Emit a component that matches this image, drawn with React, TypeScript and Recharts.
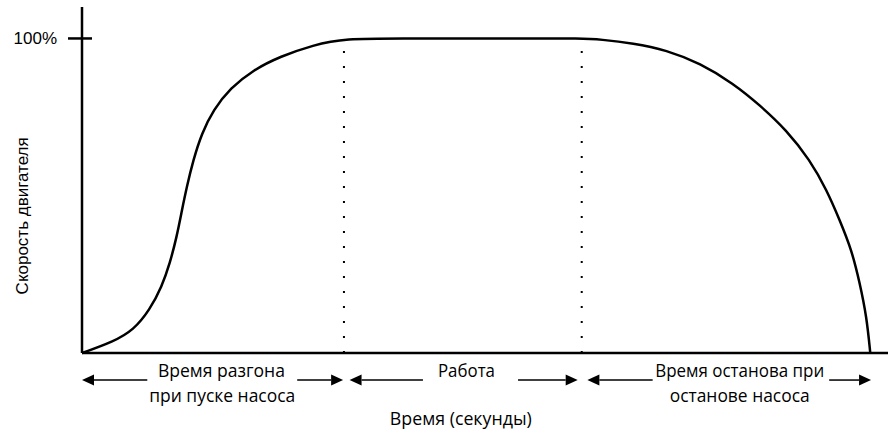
import { LineChart, Line, XAxis, YAxis, ReferenceLine, ReferenceDot } from 'recharts';

// time axis (0..100 units) and motor speed (% of nominal)
const timeSteps = [
  0, 3.9, 6.4, 8.4, 9.9, 10.9, 11.75, 12.4, 13.0, 13.8, 14.85, 16.3, 18.4, 21.25, 24.6, 28.7, 32.5,
  40, 47, 55, 62.0, 64.3, 68.4, 72.5, 76.7, 80.8, 84.1, 87.4, 90.3, 92.4, 94.0, 95.5, 96.5, 97.35, 97.8,
];
const speedPct = [
  0, 3.6, 7.3, 13.7, 21.1, 28.5, 36.9, 45.4, 52.8, 61.3, 69.8, 77.3, 84.2, 90.0, 94.3, 97.9, 100,
  100, 100, 100, 100, 99.7, 98.5, 96.3, 92.1, 85.7, 78.8, 70.9, 61.4, 51.8, 42.3, 32.7, 22.2, 11.5, 0,
];

const yTicks = [100];
const yTickLabels = ['100%'];

// phase boundaries (dotted lines)
const phaseBounds = [32.5, 62.0];

// arrows under the axis: [inner end, tip]
const arrowLevel = -8.6;
const arrows = [
  [8.1, 0], [26.7, 32.4],
  [42.3, 33.2], [54.1, 61.5],
  [70.8, 62.7], [92.7, 97.9],
];

// phase captions: text, x, baseline level, width
const captions: [string, number, number, number][] = [
  ['Время разгона', 17.3, -7.6, 127],
  ['при пуске насоса', 17.4, -15.6, 146],
  ['Работа', 47.7, -7.6, 57],
  ['Время останова при', 81.6, -7.6, 169],
  ['останове насоса', 81.6, -15.6, 140],
  ['Время (секунды)', 47.0, -23.0, 142],
];

const data = timeSteps.map((t, i) => ({ t, speed: speedPct[i] }));

const YTick = (props: any) => {
  const { x, y, payload } = props;
  const idx = yTicks.indexOf(payload.value);
  return (
    <g>
      <line x1={x - 14} y1={y} x2={x + 10} y2={y} stroke="#000" strokeWidth={2.5} />
      <text x={x - 25} y={y + 6} textAnchor="end" fontFamily="Liberation Sans" fontSize={17} fill="#000">
        {yTickLabels[idx]}
      </text>
    </g>
  );
};

const ArrowShape = (p: any) => {
  const { x1, y1, x2, y2 } = p;
  const dir = Math.sign(x2 - x1);
  const base = x2 - dir * 12;
  return (
    <g>
      <line x1={x1} y1={y1} x2={base} y2={y2} stroke="#000" strokeWidth={1.5} />
      <polygon points={`${x2},${y2} ${base},${y2 - 5.5} ${base},${y2 + 5.5}`} fill="#000" />
    </g>
  );
};

const captionShape = (text: string, width: number) => (p: any) => (
  <text x={p.cx} y={p.cy} textAnchor="middle" fontFamily="Open Sans" fontSize={19} fill="#000"
    textLength={width} lengthAdjust="spacingAndGlyphs">
    {text}
  </text>
);

const yLabelShape = (p: any) => (
  <text x={p.cx} y={p.cy} transform={`rotate(-90 ${p.cx} ${p.cy})`} textAnchor="middle"
    fontFamily="Liberation Sans" fontSize={17} fill="#000">
    Скорость двигателя
  </text>
);

export default function App() {
  return (
    <div style={{ position: 'absolute', left: 0, top: 0, background: '#fff' }}>
      <LineChart width={888} height={431} data={data} margin={{ top: 7, right: 0, bottom: 0, left: 0 }}>
        <XAxis dataKey="t" type="number" domain={[0, 100]} tick={false} tickLine={false} height={78}
          axisLine={{ stroke: '#000', strokeWidth: 2.5 }} />
        <YAxis type="number" domain={[0, 110]} ticks={yTicks} width={82} tickSize={0} tickMargin={0}
          tickLine={false} tick={<YTick />} axisLine={{ stroke: '#000', strokeWidth: 2.5 }} />
        {phaseBounds.map((b) => (
          <ReferenceLine key={b} segment={[{ x: b, y: 0 }, { x: b, y: 100 }]} stroke="#000"
            strokeWidth={2} strokeDasharray="2 13" />
        ))}
        <Line type="basis" dataKey="speed" stroke="#000" strokeWidth={2.5} dot={false} isAnimationActive={false} />
        {arrows.map(([from, tip], i) => (
          <ReferenceLine key={'a' + i} ifOverflow="visible"
            segment={[{ x: from, y: arrowLevel }, { x: tip, y: arrowLevel }]} shape={ArrowShape} />
        ))}
        {captions.map(([text, x, y, w]) => (
          <ReferenceDot key={text} x={x} y={y} ifOverflow="visible" shape={captionShape(text, w)} />
        ))}
        <ReferenceDot x={-6.66} y={43.6} ifOverflow="visible" shape={yLabelShape} />
      </LineChart>
    </div>
  );
}
